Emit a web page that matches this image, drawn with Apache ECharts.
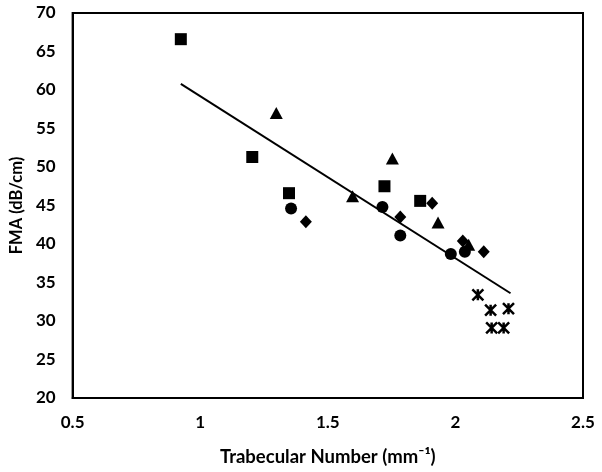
<!DOCTYPE html>
<html>
<head>
<meta charset="utf-8">
<script src="https://cdn.jsdelivr.net/npm/echarts@6/dist/echarts.min.js"></script>
<style>
  html, body { margin: 0; padding: 0; background: #fff; }
  #chart { width: 602px; height: 472px; }
</style>
</head>
<body>
<div id="chart"></div>
<script>
// data: [trabecular number, FMA]
const squares = [[0.924, 66.6], [1.204, 51.3], [1.348, 46.6], [1.722, 47.5], [1.862, 45.6]];
const triangles = [[1.298, 57.0], [1.597, 46.2], [1.753, 51.1], [1.932, 42.8], [2.052, 39.9]];
const circles = [[1.356, 44.6], [1.714, 44.8], [1.784, 41.1], [1.982, 38.7], [2.037, 39.0]];
const diamonds = [[1.414, 42.9], [1.784, 43.5], [1.909, 45.3], [2.029, 40.4], [2.111, 39.0]];
const stars = [[2.088, 33.4], [2.138, 31.4], [2.208, 31.6], [2.142, 29.1], [2.189, 29.1]];
const fitLine = [[0.924, 60.8], [2.216, 33.6]];

const font = 'Lato, "Open Sans", sans-serif';
const starPath = 'path://M0,0L10,10M10,0L0,10M5,0L5,10';

const chart = echarts.init(document.getElementById('chart'));

// scatter defaults to 0.8 opacity, the markers here are solid black
function scatter(data, symbol, size, extra) {
    return Object.assign({
        type: 'scatter',
        data: data,
        symbol: symbol,
        symbolSize: size,
        itemStyle: { color: '#000', opacity: 1 },
        z: 3
    }, extra || {});
}

chart.setOption({
    animation: false,
    grid: {
        left: 69, right: 19, top: 13, bottom: 72,
        show: true, borderColor: '#000', borderWidth: 2
    },
    xAxis: {
        type: 'value',
        min: 0.5, max: 2.5, interval: 0.5,
        name: 'Trabecular Number (mm\u207B\u00B9)',
        nameLocation: 'middle',
        nameGap: 50,
        nameTextStyle: { color: '#000', fontSize: 18.5, fontWeight: 'bold', fontFamily: font },
        axisLine: { lineStyle: { color: '#000', width: 2 } },
        axisTick: { show: false },
        splitLine: { show: false },
        axisLabel: { color: '#000', fontSize: 17, fontWeight: 'bold', fontFamily: font, margin: 16 }
    },
    yAxis: {
        type: 'value',
        min: 20, max: 70, interval: 5,
        name: 'FMA (dB/cm)',
        nameLocation: 'middle',
        nameGap: 44,
        nameTextStyle: { color: '#000', fontSize: 16.5, fontWeight: 'bold', fontFamily: font },
        axisLine: { lineStyle: { color: '#000', width: 2 } },
        axisTick: { show: false },
        splitLine: { show: false },
        axisLabel: { color: '#000', fontSize: 17, fontWeight: 'bold', fontFamily: font, margin: 17 }
    },
    series: [
        {
            type: 'line',
            data: fitLine,
            symbol: 'none',
            lineStyle: { color: '#000', width: 2 },
            z: 2
        },
        scatter(squares, 'rect', 12),
        scatter(triangles, 'triangle', [13, 12]),
        scatter(circles, 'circle', 12),
        scatter(diamonds, 'diamond', [12, 13]),
        scatter(stars, starPath, 11, {
            itemStyle: { color: '#000', opacity: 1, borderColor: '#000', borderWidth: 2.5 }
        })
    ]
});
</script>
</body>
</html>
